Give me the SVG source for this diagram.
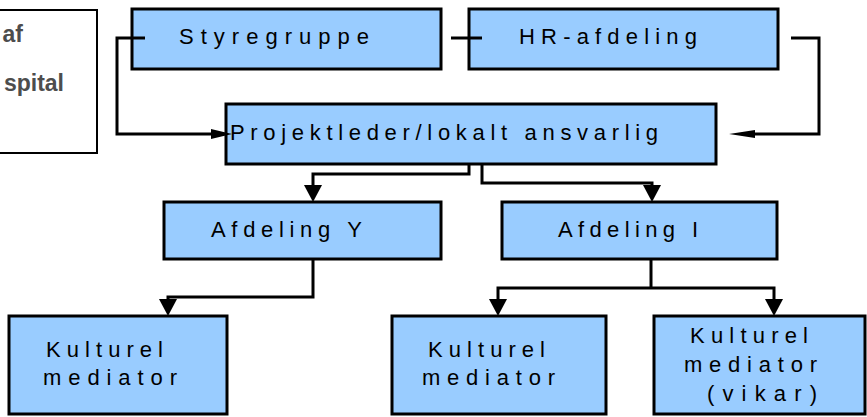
<svg xmlns="http://www.w3.org/2000/svg" width="867" height="417" viewBox="0 0 867 417">
  <style>
    .box { fill: #99ccff; stroke: #000; stroke-width: 3; }
    .lbl { font-family: "Liberation Sans", Arial, sans-serif; font-size: 22px; fill: #000; }
    .note { fill: #fff; stroke: #000; stroke-width: 2; }
    .noteText { font-family: "Liberation Sans", Arial, sans-serif; font-size: 23px; font-weight: bold; fill: #4d4d4d; }
    .wire { fill: none; stroke: #000; stroke-width: 3; }
    .head { fill: #000; }
  </style>

  <!-- side note, partly outside the canvas -->
  <g id="note">
    <rect class="note" x="-10" y="10" width="107" height="143"/>
    <text class="noteText" x="23" y="42" text-anchor="end">af</text>
    <text class="noteText" x="64" y="91" text-anchor="end">spital</text>
  </g>

  <g id="styregruppe">
    <rect class="box" x="132" y="9" width="309" height="60"/>
    <text class="lbl" x="179" y="44" textLength="190" lengthAdjust="spacing">Styregruppe</text>
  </g>

  <g id="hr-afdeling">
    <rect class="box" x="469" y="9" width="309" height="60"/>
    <text class="lbl" x="519" y="44" textLength="178" lengthAdjust="spacing">HR-afdeling</text>
  </g>

  <g id="projektleder">
    <rect class="box" x="226" y="104" width="490" height="60"/>
    <text class="lbl" x="230" y="140" textLength="428" lengthAdjust="spacing">Projektleder/lokalt ansvarlig</text>
  </g>

  <g id="afdeling-y">
    <rect class="box" x="164" y="202" width="277" height="57"/>
    <text class="lbl" x="211" y="237" textLength="151" lengthAdjust="spacing">Afdeling Y</text>
  </g>

  <g id="afdeling-i">
    <rect class="box" x="502" y="202" width="275" height="57"/>
    <text class="lbl" x="558" y="237" textLength="140" lengthAdjust="spacing">Afdeling I</text>
  </g>

  <g id="mediator-y">
    <rect class="box" x="9" y="316" width="218" height="98"/>
    <text class="lbl" x="46" y="357" textLength="117" lengthAdjust="spacing">Kulturel</text>
    <text class="lbl" x="43" y="385" textLength="134" lengthAdjust="spacing">mediator</text>
  </g>

  <g id="mediator-i">
    <rect class="box" x="392" y="316" width="214" height="98"/>
    <text class="lbl" x="428" y="357" textLength="117" lengthAdjust="spacing">Kulturel</text>
    <text class="lbl" x="422" y="385" textLength="133" lengthAdjust="spacing">mediator</text>
  </g>

  <g id="mediator-vikar">
    <rect class="box" x="654" y="316" width="211" height="98"/>
    <text class="lbl" x="690" y="343" textLength="118" lengthAdjust="spacing">Kulturel</text>
    <text class="lbl" x="684" y="372" textLength="133" lengthAdjust="spacing">mediator</text>
    <text class="lbl" x="707" y="401" textLength="110" lengthAdjust="spacing">(vikar)</text>
  </g>

  <g id="connectors">
    <!-- Styregruppe to Projektleder -->
    <path class="wire" d="M145 38 H117 V134 H214"/>
    <polygon class="head" points="211,129 232,134 211,139"/>
    <!-- Styregruppe to HR-afdeling -->
    <path class="wire" d="M451 38 H482"/>
    <!-- HR-afdeling to Projektleder -->
    <path class="wire" d="M791 38 H819 V134 H748"/>
    <polygon class="head" points="755,130 729,134 755,138"/>
    <!-- Projektleder to Afdeling Y -->
    <path class="wire" d="M469 164 V174 H313 V188"/>
    <polygon class="head" points="304,185 322,185 313,202"/>
    <!-- Projektleder to Afdeling I -->
    <path class="wire" d="M482 164 V183 H652 V188"/>
    <polygon class="head" points="643,185 661,185 652,202"/>
    <!-- Afdeling Y to mediator -->
    <path class="wire" d="M313 259 V297 H168 V302"/>
    <polygon class="head" points="159,299 177,299 168,316"/>
    <!-- Afdeling I to mediators -->
    <path class="wire" d="M651 259 V288"/>
    <path class="wire" d="M498 302 V288 H774 V302"/>
    <polygon class="head" points="489,299 507,299 498,316"/>
    <polygon class="head" points="765,299 783,299 774,316"/>
  </g>
</svg>
